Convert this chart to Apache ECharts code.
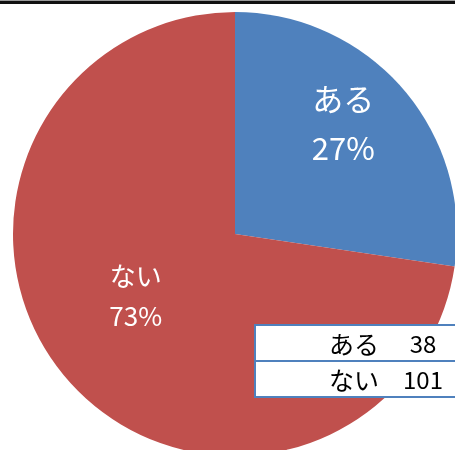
<!DOCTYPE html>
<html><head><meta charset="utf-8">
<script src="https://cdn.jsdelivr.net/npm/echarts@6/dist/echarts.min.js"></script>
<style>html,body{margin:0;padding:0;background:#fff}#c{width:455px;height:450px}</style>
</head><body><div id="c"></div>
<script>
const categories = ['ある', 'ない'];
const counts = [38, 101];
const colors = ['#4F81BD', '#C0504D'];

const FONT = '"Noto Sans CJK JP", "Noto Sans", sans-serif';
const chart = echarts.init(document.getElementById('c'), null, {renderer: 'canvas'});

const labelStyles = [
  {fontSize: 31, lineHeight: 49, offset: [22, -36]},
  {fontSize: 26, lineHeight: 40, offset: [-13, -12]}
];

const rowTop = 325, rowH = 36, tblLeft = 255;
const tableGraphics = [];
categories.forEach((c, i) => {
  const y = rowTop + i * rowH;
  tableGraphics.push({
    type: 'rect', shape: {x: tblLeft, y: y, width: 210, height: rowH},
    style: {fill: '#fff', stroke: '#4F81BD', lineWidth: 2}, z: 10
  });
  tableGraphics.push({
    type: 'text', x: 354, y: y + rowH / 2 + 1,
    style: {text: c, fontSize: 25, fontFamily: FONT, fill: '#000', align: 'center', verticalAlign: 'middle'}, z: 11
  });
  tableGraphics.push({
    type: 'text', x: 423, y: y + rowH / 2 + 1,
    style: {text: String(counts[i]), fontSize: 24, fontFamily: FONT, fill: '#000', align: 'center', verticalAlign: 'middle'}, z: 11
  });
});

chart.setOption({
  backgroundColor: '#fff',
  animation: false,
  series: [{
    type: 'pie',
    center: [235, 234],
    radius: 222,
    startAngle: 90,
    clockwise: true,
    percentPrecision: 0,
    label: {show: true, position: 'inside', color: '#fff', fontFamily: FONT, formatter: '{b}\n{d}%'},
    labelLine: {show: false},
    emphasis: {disabled: true},
    data: categories.map((c, i) => ({
      name: c, value: counts[i],
      itemStyle: {color: colors[i]},
      label: labelStyles[i]
    }))
  }],
  graphic: [
    {type: 'rect', shape: {x: 0, y: 0, width: 455, height: 1}, style: {fill: '#9a9a9a'}, z: 20},
    {type: 'rect', shape: {x: 0, y: 1, width: 455, height: 3}, style: {fill: '#111'}, z: 20}
  ].concat(tableGraphics)
});
</script></body></html>
